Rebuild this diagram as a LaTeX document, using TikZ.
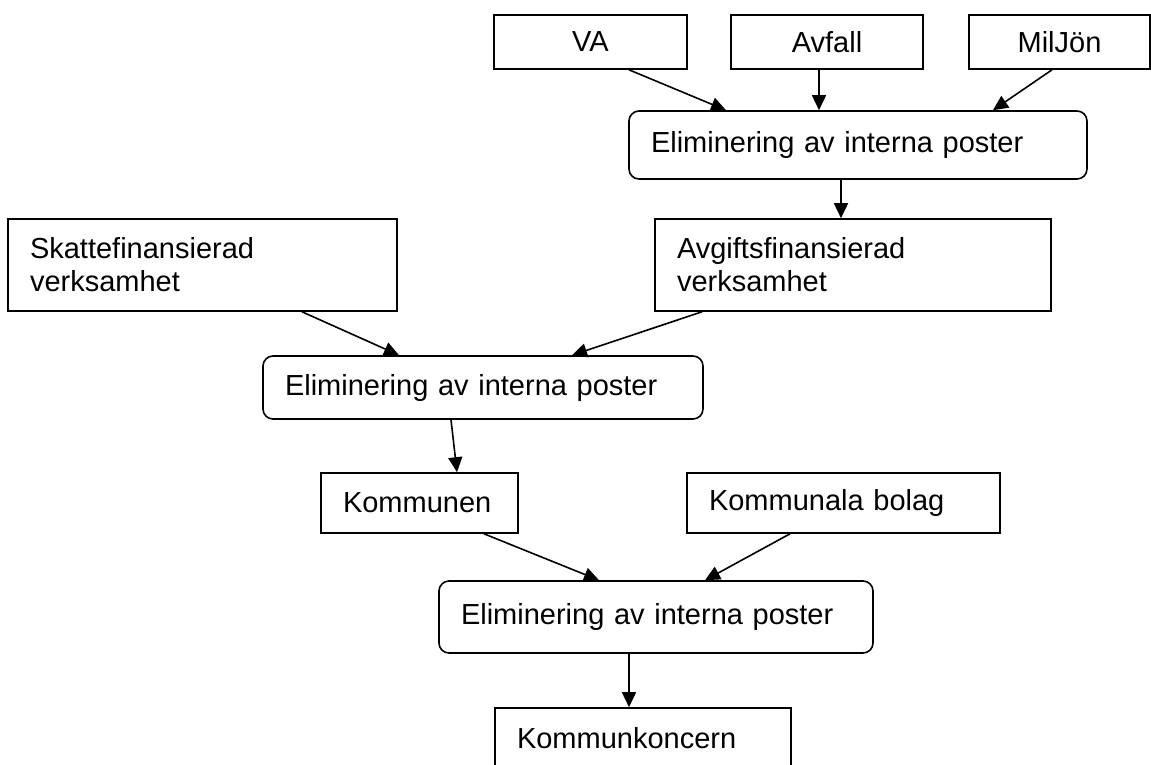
\documentclass[tikz,border=0pt]{standalone}
\usepackage{fontspec}
\setmainfont{Liberation Sans}
\usepackage{tikz}
\usetikzlibrary{arrows.meta,positioning,calc}
\tikzset{
  unit/.style={draw=black, line width=1.6pt, inner xsep=22pt, inner ysep=0pt,
               align=left, font=\fontsize{29}{33}\selectfont},
  elimbox/.style={unit, rounded corners=10pt},
  flow/.style={-{Triangle[length=15pt,width=14pt]}, line width=1.6pt, draw=black}
}

\begin{document}
\begin{tikzpicture}[x=1pt,y=-1pt]
        \useasboundingbox (0,0) rectangle (1151,764);
        \clip (0,0) rectangle (1151,764);
        % top row
        \node[unit,align=center,text width=149pt,minimum height=54pt] (va) at (590.5,42) {VA};
        \node[unit,align=center,text width=148pt,minimum height=54pt] (avfall) at (827,42) {Avfall};
        \node[unit,align=center,text width=137pt,minimum height=54pt] (miljon) at (1059.5,42) {MilJön};
        \node[elimbox,text width=414pt,minimum height=68pt] (elim1) at (858,145) {Eliminering av interna poster};
        % second level
        \node[unit,text width=352pt,minimum height=92pt] (avgift) at (853,265) {Avgiftsfinansierad\\verksamhet};
        \node[unit,text width=345pt,minimum height=92pt] (skatte) at (202.5,265) {Skattefinansierad\\verksamhet};
        \node[elimbox,text width=396pt,minimum height=63pt] (elim2) at (483,387.5) {Eliminering av interna poster};
        % third level
        \node[unit,text width=153pt,minimum height=60pt] (kommunen) at (419.5,503) {Kommunen};
        \node[unit,text width=269pt,minimum height=60pt] (kbolag) at (843.5,503) {Kommunala bolag};
        \node[elimbox,text width=390pt,minimum height=72pt] (elim3) at (656,617) {Eliminering av interna poster};
        \node[unit,text width=252pt,minimum height=60pt] (koncern) at (643,738) {Kommunkoncern};

        \draw[flow] ([xshift=38.5pt]va.south) -- ([xshift=-132pt]elim1.north);
        \draw[flow] ([xshift=-8pt]avfall.south) -- ([xshift=-39pt]elim1.north);
        \draw[flow] ([xshift=-7.5pt]miljon.south) -- ([xshift=135pt]elim1.north);
        \draw[flow] ([xshift=-17pt]elim1.south) -- ([xshift=-12pt]avgift.north);
        \draw[flow] ([xshift=99.5pt]skatte.south) -- ([xshift=-84pt]elim2.north);
        \draw[flow] ([xshift=-151pt]avgift.south) -- ([xshift=89pt]elim2.north);
        \draw[flow] ([xshift=-32pt]elim2.south) -- ([xshift=37.5pt]kommunen.north);
        \draw[flow] ([xshift=64.5pt]kommunen.south) -- ([xshift=-57pt]elim3.north);
        \draw[flow] ([xshift=-53.5pt]kbolag.south) -- ([xshift=49pt]elim3.north);
        \draw[flow] ([xshift=-27pt]elim3.south) -- ([xshift=-14pt]koncern.north);
\end{tikzpicture}
\end{document}
